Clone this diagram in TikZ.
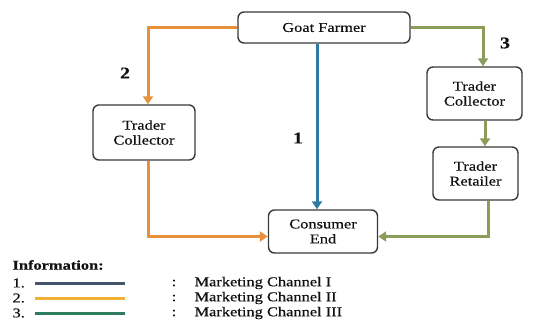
\documentclass[tikz,border=0pt]{standalone}
\usepackage{fontspec}
\setmainfont[FakeStretch=1.22,FakeBold=0.4]{Liberation Serif}
\usetikzlibrary{arrows.meta,calc}
\definecolor{corange}{HTML}{E8913A}
\definecolor{cblue}{HTML}{2B7BA3}
\definecolor{colive}{HTML}{8C9C5A}
\definecolor{lnavy}{HTML}{44546A}
\definecolor{lgold}{HTML}{F2B134}
\definecolor{lteal}{HTML}{2E7D5E}
\definecolor{boxline}{HTML}{3A3A3A}
\definecolor{txt}{HTML}{111111}
\begin{document}
\begin{tikzpicture}[x=1bp,y=-1bp,
  every node/.style={text=txt,font=\fontsize{13.5}{15}\selectfont},
  boxn/.style={draw=boxline,line width=1.4bp,rounded corners=6bp,align=center,inner sep=0pt},
  conn/.style={line width=3bp,-{Triangle[width=10bp,length=8bp]}},
  legline/.style={line width=3bp},
  num/.style={font=\fontsize{16.5}{18}\selectfont\bfseries}]
\useasboundingbox (0,0) rectangle (533,323);
\fill[white] (0,0) rectangle (533,323);
% boxes
\node[boxn,minimum width=172bp,minimum height=31bp] (gf) at (324,27.5) {Goat Farmer};
\node[boxn,minimum width=102bp,minimum height=55bp] (tcl) at (144,132.5) {Trader\\Collector};
\node[boxn,minimum width=109bp,minimum height=43bp] (ce) at (323,231.5) {Consumer\\End};
\node[boxn,minimum width=95bp,minimum height=53bp] (tcr) at (474.5,93.5) {Trader\\Collector};
\node[boxn,minimum width=85bp,minimum height=53bp] (tr) at (475.5,173.5) {Trader\\Retailer};
% connectors
\draw[conn,corange] (gf.west) -| ($(tcl.north)+(4,0)$);
\draw[conn,corange] ($(tcl.south)+(4,0)$) |- ($(ce.west)+(0,5)$);
\draw[conn,cblue] ($(gf.south)+(-7,0)$) -- ($(ce.north)+(-6,0)$);
\draw[conn,colive] (gf.east) -| ($(tcr.north)+(8.5,0)$);
\draw[conn,colive] ($(tcr.south)+(10.5,0)$) -- ($(tr.north)+(9.5,0)$);
\draw[conn,colive] ($(tr.south)+(12.5,0)$) |- ($(ce.east)+(0,5)$);
% numbers
\node[num] (n2) at (125,73) {2};
\node[num] (n1) at (298,138) {1};
\node[num] (n3) at (505,43) {3};
% legend
\node[anchor=west,font=\fontsize{13.5}{15}\selectfont\bfseries] (info) at (9,265) {Information:};
\foreach \i/\c/\r in {1/lnavy/I,2/lgold/II,3/lteal/III}{
  \node[anchor=west] (k\i) at (9,268+15*\i) {\i.};
  \coordinate (la\i) at (35,268+15*\i);
  \coordinate (lb\i) at (125,268+15*\i);
  \draw[legline,\c] (la\i) -- (lb\i);
  \node (c\i) at (174,268+15*\i) {:};
  \node[anchor=west] (t\i) at (191,268+15*\i) {Marketing Channel \r};
}
\end{tikzpicture}
\end{document}
